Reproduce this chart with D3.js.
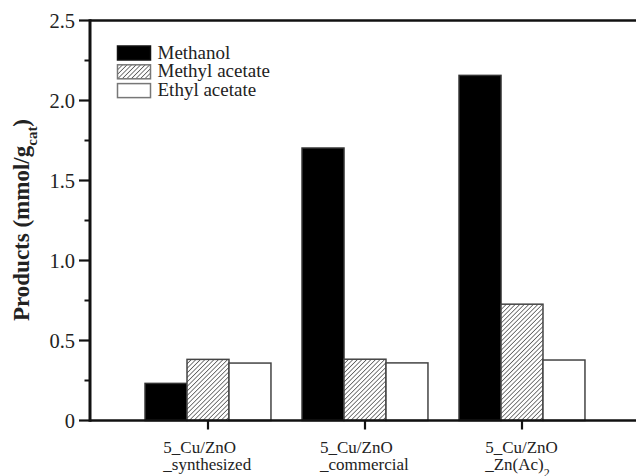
<!DOCTYPE html>
<html lang="en">
<head>
    <meta charset="UTF-8">
    <title>Products</title>
    <script src="https://d3js.org/d3.v7.min.js"></script>
    <style>
        body {
            margin: 0;
            background-color: #fff;
        }
        svg {
            display: block;
            background-color: #fff;
            font-family: 'Liberation Serif', 'Times New Roman', serif;
        }
        .tick-label {
            font-size: 20.5px;
            fill: #222;
        }
        .cat-label {
            font-size: 17px;
            fill: #222;
        }
        .legend-label {
            font-size: 19px;
            fill: #222;
        }
        .y-title {
            font-size: 23px;
            font-weight: bold;
            fill: #222;
        }
    </style>
</head>
<body>
    <svg width="636" height="476">
        <defs>
            <pattern id="hatch" width="3.2" height="3.2" patternUnits="userSpaceOnUse" patternTransform="rotate(45)">
                <rect width="3.2" height="3.2" fill="#fff"></rect>
                <line x1="0" y1="0" x2="0" y2="3.2" stroke="#444" stroke-width="1.4"></line>
            </pattern>
        </defs>
    </svg>

    <script>
        // categories and series values
        const catLine1 = ["5_Cu/ZnO", "5_Cu/ZnO", "5_Cu/ZnO"];
        const catLine2 = ["_synthesized", "_commercial", "_Zn(Ac)"];
        const catSub = ["", "", "2"];
        const keys = ["Methanol", "Methyl acetate", "Ethyl acetate"];
        const methanol = [0.232, 1.703, 2.157];
        const methylAcetate = [0.382, 0.383, 0.727];
        const ethylAcetate = [0.359, 0.360, 0.378];
        const yTicks = [0, 0.5, 1.0, 1.5, 2.0, 2.5];
        const yMinor = [0.25, 0.75, 1.25, 1.75, 2.25];

        const series = [methanol, methylAcetate, ethylAcetate];
        const fills = ["#000", "url(#hatch)", "#fff"];
        const strokes = ["#333", "#444", "#444"];

        const svg = d3.select("svg");
        const plotL = 90, plotT = 20.5, plotB = 420.5, plotR = 636;

        const y = d3.scaleLinear([0, 2.5], [plotB, plotT]);
        const x0 = d3.scaleBand()
            .domain(d3.range(catLine1.length))
            .range([129.5, 600.5])
            .padding(0);
        const x1 = d3.scaleBand()
            .domain(keys)
            .range([0, x0.bandwidth()])
            .paddingInner(0)
            .paddingOuter(0.37);

        // bars
        const groups = svg.append("g").selectAll("g")
            .data(d3.range(catLine1.length))
            .join("g")
            .attr("transform", i => `translate(${x0(i)},0)`);

        groups.selectAll("rect")
            .data(i => keys.map((k, j) => ({key: k, j: j, value: series[j][i]})))
            .join("rect")
            .attr("x", d => x1(d.key))
            .attr("y", d => y(d.value))
            .attr("width", x1.bandwidth())
            .attr("height", d => y(0) - y(d.value))
            .attr("fill", d => fills[d.j])
            .attr("stroke", d => strokes[d.j])
            .attr("stroke-width", 1.5);

        // frame lines
        const axisG = svg.append("g").attr("stroke", "#111").attr("fill", "none");
        axisG.append("line")
            .attr("x1", plotL).attr("x2", plotR)
            .attr("y1", plotT).attr("y2", plotT)
            .attr("stroke-width", 2.5);
        axisG.append("line")
            .attr("x1", plotL).attr("x2", plotR)
            .attr("y1", plotB).attr("y2", plotB)
            .attr("stroke-width", 2.5);
        axisG.append("line")
            .attr("x1", plotL).attr("x2", plotL)
            .attr("y1", plotT - 1.2).attr("y2", plotB + 1.2)
            .attr("stroke-width", 3);

        // y ticks
        axisG.selectAll(".major")
            .data(yTicks)
            .join("line")
            .attr("class", "major")
            .attr("x1", plotL - 11).attr("x2", plotL)
            .attr("y1", d => y(d)).attr("y2", d => y(d))
            .attr("stroke-width", 2.2);
        axisG.selectAll(".minor")
            .data(yMinor)
            .join("line")
            .attr("class", "minor")
            .attr("x1", plotL - 5.5).attr("x2", plotL)
            .attr("y1", d => y(d)).attr("y2", d => y(d))
            .attr("stroke-width", 2);

        svg.append("g").selectAll("text")
            .data(yTicks)
            .join("text")
            .attr("class", "tick-label")
            .attr("x", plotL - 15)
            .attr("y", d => y(d))
            .attr("dy", "0.35em")
            .attr("text-anchor", "end")
            .text(d => d === 0 ? "0" : d3.format(".1f")(d));

        // x ticks
        axisG.selectAll(".xtick")
            .data(d3.range(catLine1.length))
            .join("line")
            .attr("class", "xtick")
            .attr("x1", i => x0(i) + x0.bandwidth() / 2)
            .attr("x2", i => x0(i) + x0.bandwidth() / 2)
            .attr("y1", plotB).attr("y2", plotB + 9)
            .attr("stroke-width", 2.2);

        // category labels: two left-aligned lines, block centred on the tick
        const catText = svg.append("g").selectAll("text")
            .data(d3.range(catLine1.length))
            .join("text")
            .attr("class", "cat-label");
        catText.append("tspan")
            .attr("x", 0)
            .attr("y", 453)
            .text(i => catLine1[i]);
        catText.append("tspan")
            .attr("x", 0)
            .attr("y", 469.5)
            .text(i => catLine2[i]);
        catText.filter(i => catSub[i] !== "")
            .append("tspan")
            .attr("baseline-shift", "sub")
            .attr("font-size", "12px")
            .text(i => catSub[i]);
        catText.attr("transform", function(i) {
            const w = this.getBBox().width;
            return `translate(${x0(i) + x0.bandwidth() / 2 - w / 2},0)`;
        });

        // y title
        const title = svg.append("text")
            .attr("class", "y-title")
            .attr("text-anchor", "middle")
            .attr("transform", "translate(29,220) rotate(-90)");
        title.append("tspan").text("Products (mmol/g");
        title.append("tspan")
            .attr("baseline-shift", "sub")
            .attr("font-size", "15px")
            .text("cat");
        title.append("tspan").text(")");

        // legend
        const legend = svg.append("g").attr("transform", "translate(117.5,46)");
        const item = legend.selectAll("g")
            .data(keys)
            .join("g")
            .attr("transform", (d, i) => `translate(0,${i * 18.8})`);
        item.append("rect")
            .attr("width", 33)
            .attr("height", 14)
            .attr("fill", (d, i) => fills[i])
            .attr("stroke", (d, i) => i === 0 ? "#111" : "#777")
            .attr("stroke-width", 1.5);
        item.append("text")
            .attr("class", "legend-label")
            .attr("x", 40)
            .attr("y", 12.6)
            .text(d => d);
    </script>
</body>
</html>
